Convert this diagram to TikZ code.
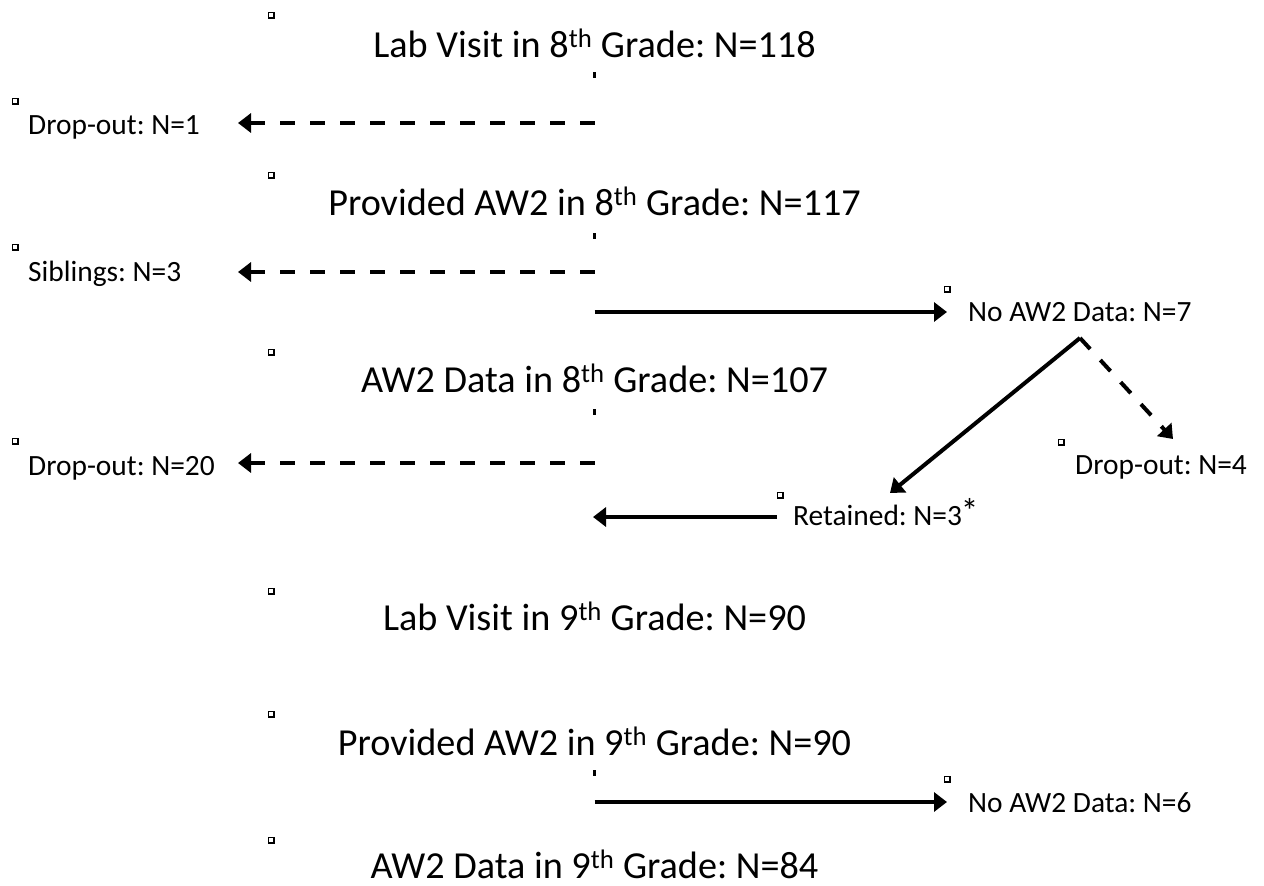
\documentclass[tikz,border=0pt]{standalone}
\usepackage{fontspec}
\setmainfont{Carlito}
\usetikzlibrary{arrows.meta}
\frenchspacing

\begin{document}
\begin{tikzpicture}[x=1pt,y=-1pt,
  stage/.style={font=\fontsize{38.2}{41}\selectfont, inner sep=0pt, anchor=base},
  side/.style={font=\fontsize{29.4}{32}\selectfont, inner sep=0pt, anchor=base west},
  handle/.style={draw, line width=1.8pt, minimum size=5.2pt, inner sep=0pt},
  tick/.style={line width=2.5pt},
  flow/.style={line width=4pt, -{Triangle[length=13pt,width=19pt]}},
  skip/.style={flow, dash pattern=on 15pt off 15pt},
]
\useasboundingbox (0,0) rectangle (1264,886);

% main stages
\node[stage] (lab8)  at (594.5,57)  {Lab Visit in 8\textsuperscript{th} Grade: N=118};
\node[stage] (prov8) at (594.5,215) {Provided AW2 in 8\textsuperscript{th} Grade: N=117};
\node[stage] (data8) at (594.5,392) {AW2 Data in 8\textsuperscript{th} Grade: N=107};
\node[stage] (lab9)  at (594.5,630) {Lab Visit in 9\textsuperscript{th} Grade: N=90};
\node[stage] (prov9) at (594.5,755) {Provided AW2 in 9\textsuperscript{th} Grade: N=90};
\node[stage] (data9) at (594.5,878) {AW2 Data in 9\textsuperscript{th} Grade: N=84};

% side boxes
\node[side] (drop1)  at (28,134)   {Drop-out: N=1};
\node[side] (sib)    at (28,281)   {Siblings: N=3};
\node[side] (drop20) at (28,475)   {Drop-out: N=20};
\node[side] (noaw7)  at (968,321)  {No AW2 Data: N=7};
\node[side] (drop4)  at (1075,474) {Drop-out: N=4};
\node[side] (ret)    at (793,525)  {Retained: N=3\kern-0.04em\raisebox{0.06em}{\scalebox{1.2}{*}}};
\node[side] (noaw6)  at (968,812)  {No AW2 Data: N=6};

% text-box handles
\foreach \n/\p in {h1/{(271,15)}, h2/{(15,101)}, h3/{(271,175)}, h4/{(15,247)},
                   h5/{(947,289)}, h6/{(271,352)}, h7/{(15,441)}, h8/{(1061,442)},
                   h9/{(780,495)}, h10/{(271,591)}, h11/{(271,714)}, h12/{(947,779)},
                   h13/{(271,840)}}
  \node[handle] (\n) at \p {};

% connector stubs
\coordinate (t1a) at (594.5,72);  \coordinate (t1b) at (594.5,78);
\coordinate (t2a) at (594.5,233); \coordinate (t2b) at (594.5,239);
\coordinate (t3a) at (594.5,409); \coordinate (t3b) at (594.5,415);
\coordinate (t4a) at (594.5,770); \coordinate (t4b) at (594.5,776);
\draw[tick] (t1a) -- (t1b);
\draw[tick] (t2a) -- (t2b);
\draw[tick] (t3a) -- (t3b);
\draw[tick] (t4a) -- (t4b);

% arrow ends
\coordinate (s1) at (594.5,123);  \coordinate (e1) at (238,123);
\coordinate (s2) at (594.5,272);  \coordinate (e2) at (238,272);
\coordinate (s3) at (594.5,312);  \coordinate (e3) at (947,312);
\coordinate (fork) at (1080,338);
\coordinate (e4) at (890,493);
\coordinate (e5) at (1173,439);
\coordinate (s6) at (594.5,463);  \coordinate (e6) at (238,463);
\coordinate (s7) at (777,517);    \coordinate (e7) at (593,517);
\coordinate (s8) at (594.5,802);  \coordinate (e8) at (947,802);

\draw[skip] (s1) -- (e1);
\draw[skip] (s2) -- (e2);
\draw[flow] (s3) -- (e3);
\draw[flow] (fork) -- (e4);
\draw[skip] (fork) -- (e5);
\draw[skip] (s6) -- (e6);
\draw[flow] (s7) -- (e7);
\draw[flow] (s8) -- (e8);
\end{tikzpicture}
\end{document}
